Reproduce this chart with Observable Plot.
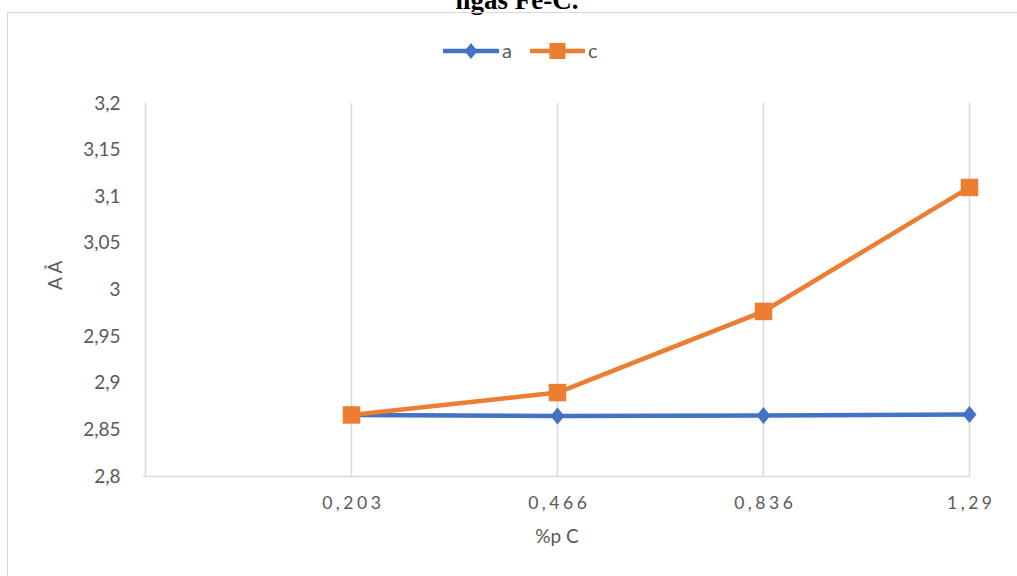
<!DOCTYPE html>
<html>
<head>
<meta charset="utf-8">
<script src="https://cdn.jsdelivr.net/npm/d3@7"></script>
<script src="https://cdn.jsdelivr.net/npm/@observablehq/plot@0.6"></script>
<style>
  html, body { margin: 0; padding: 0; background: #fff; }
  #wrap { position: relative; width: 1017px; height: 576px; overflow: hidden; background: #fff; }
  #frame { position: absolute; left: 7px; top: 12px; width: 1030px; height: 620px;
           border: 1.5px solid #d9d9d9; box-sizing: border-box; pointer-events: none; }
  #title { position: absolute; left: 0; width: 1034px; top: -13px; text-align: center;
           font: bold 27px/27px "Liberation Serif", "Times New Roman", serif; color: #000; }
  #legend { position: absolute; top: 39px; left: 443px; height: 24px; display: flex; align-items: center;
            font: 20px Lato, sans-serif; color: #595959; }
  #legend .item { display: flex; align-items: center; }
  #legend svg { display: block; }
  #chart { position: absolute; left: 0; top: 0; }
  #chart svg { background: transparent !important; }
  g[aria-label="x-axis tick label"] text { letter-spacing: 3.5px; }
</style>
</head>
<body>
<div id="wrap">
  <div id="title">ligas Fe-C.</div>
  <div id="chart"></div>
  <div id="legend"></div>
  <div id="frame"></div>
</div>
<script>
// Carbon content (wt %) on the category axis; the first slot is left empty
const categories = ["0,203", "0,466", "0,836", "1,29"];
const xDomain = ["", ...categories];

// Lattice parameters (Å)
const aValues = [2.866, 2.8648, 2.8654, 2.8664];
const cValues = [2.866, 2.890, 2.977, 3.110];

const yTicks = [2.8, 2.85, 2.9, 2.95, 3.0, 3.05, 3.1, 3.15, 3.2];

const seriesNames = ["a", "c"];
const seriesColors = ["#4472C4", "#ED7D31"];

const rowsA = categories.map((x, i) => ({x, y: aValues[i]}));
const rowsC = categories.map((x, i) => ({x, y: cValues[i]}));

// Marker shapes: a rotated square (slightly taller than wide) and a plain square
const diamond = {
  draw(ctx, size) {
    const k = Math.sqrt(size / Math.PI);
    const w = 0.7 * k, h = 0.85 * k;
    ctx.moveTo(0, -h); ctx.lineTo(w, 0); ctx.lineTo(0, h); ctx.lineTo(-w, 0); ctx.closePath();
  }
};
const square = {
  draw(ctx, size) {
    const k = Math.sqrt(size / Math.PI);
    const s = 0.875 * k;
    ctx.rect(-s, -s, 2 * s, 2 * s);
  }
};

const comma = d => String(d).replace(".", ",");
const grid = "#d9d9d9";
const textColor = "#595959";

const chart = Plot.plot({
  width: 1017,
  height: 576,
  marginLeft: 143,
  marginRight: 47,
  marginTop: 103,
  marginBottom: 100,
  style: {fontFamily: "Lato, sans-serif", background: "transparent"},
  x: {type: "point", domain: xDomain, padding: 0},
  y: {domain: [2.8, 3.2]},
  marks: [
    Plot.ruleX(xDomain, {x: d => d, y1: 2.8, y2: 3.2, stroke: grid, strokeWidth: 1.5}),
    Plot.ruleY([2.8], {stroke: grid, strokeWidth: 1.5}),
    Plot.axisY({ticks: yTicks, tickFormat: comma, tickSize: 0, tickPadding: 23,
                fontSize: 19, fill: textColor, label: null}),
    Plot.axisX({ticks: categories, tickSize: 0, tickPadding: 20, dx: 1.75,
                fontSize: 17.5, fill: textColor, label: null}),
    Plot.text(["A Å"], {frameAnchor: "left", dx: -88, rotate: -90, fontSize: 19, fill: textColor}),
    Plot.text(["%p C"], {frameAnchor: "bottom", dy: 66, fontSize: 19, fill: textColor}),
    Plot.line(rowsA, {x: "x", y: "y", stroke: seriesColors[0], strokeWidth: 4.5}),
    Plot.dot(rowsA, {x: "x", y: "y", symbol: diamond, r: 10, fill: seriesColors[0], stroke: "none"}),
    Plot.line(rowsC, {x: "x", y: "y", stroke: seriesColors[1], strokeWidth: 4.5}),
    Plot.dot(rowsC, {x: "x", y: "y", symbol: square, r: 10, fill: seriesColors[1], stroke: "none"})
  ]
});
document.getElementById("chart").appendChild(chart);

// Legend: line swatch with marker, then series name
const legend = d3.select("#legend");
seriesNames.forEach((name, i) => {
  const item = legend.append("div").attr("class", "item").style("margin-right", i === 0 ? "18px" : "0");
  const sw = item.append("svg").attr("width", i === 0 ? 56 : 55).attr("height", 24);
  const w = +sw.attr("width");
  sw.append("line").attr("x1", 1).attr("x2", w - 1).attr("y1", 12).attr("y2", 12)
    .attr("stroke", seriesColors[i]).attr("stroke-width", 4.5).attr("stroke-linecap", "round");
  const cx = w / 2;
  if (i === 0) {
    sw.append("path").attr("d", `M${cx},${12 - 8}L${cx + 6.5},12L${cx},${12 + 8}L${cx - 6.5},12Z`).attr("fill", seriesColors[i]);
  } else {
    sw.append("rect").attr("x", cx - 8).attr("y", 4).attr("width", 16).attr("height", 16).attr("fill", seriesColors[i]);
  }
  item.append("span").style("margin-left", "3px").style("margin-top", "-3px").text(name);
});
</script>
</body>
</html>
